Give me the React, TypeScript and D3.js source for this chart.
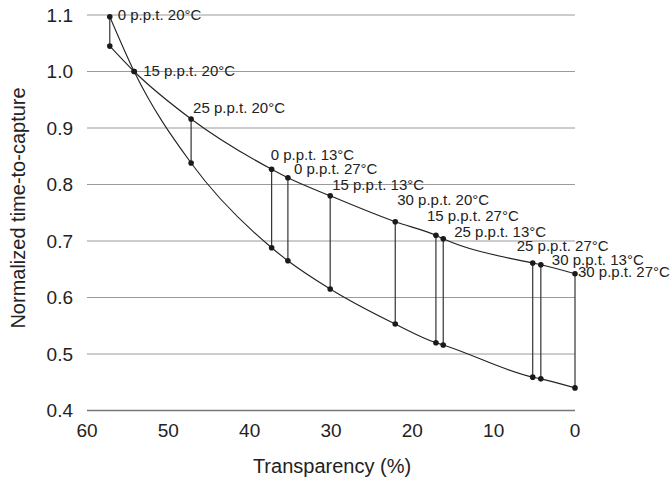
import React, { useEffect, useRef } from 'react';
import * as d3 from 'd3';

// condition labels, one per measured point
const labels = [
  '0 p.p.t. 20°C', '15 p.p.t. 20°C', '25 p.p.t. 20°C', '0 p.p.t. 13°C',
  '0 p.p.t. 27°C', '15 p.p.t. 13°C', '30 p.p.t. 20°C', '15 p.p.t. 27°C',
  '25 p.p.t. 13°C', '25 p.p.t. 27°C', '30 p.p.t. 13°C', '30 p.p.t. 27°C',
];
const transparency = [57.2, 54.2, 47.2, 37.3, 35.3, 30.1, 22.1, 17.1, 16.2, 5.2, 4.2, 0];
const seriesA = [1.045, 1.0, 0.916, 0.827, 0.812, 0.78, 0.734, 0.71, 0.704, 0.661, 0.658, 0.642];
const seriesB = [1.097, 1.0, 0.838, 0.688, 0.665, 0.615, 0.553, 0.52, 0.516, 0.459, 0.456, 0.44];
const xTicks = [60, 50, 40, 30, 20, 10, 0];
const yTicks = [0.4, 0.5, 0.6, 0.7, 0.8, 0.9, 1.0, 1.1];

// label nudges (px) from the upper dot of each pair
const labelOffsets = [
  [8, 3], [9, 4], [2, -6], [-1, -9], [6, -4], [2, -6],
  [2, -17], [-9, -14], [11, -2], [-16, -12], [11, 0], [3, 3],
];

const FONT = '"Liberation Sans", Arial, Helvetica, sans-serif';

const App = () => {
  const ref = useRef<SVGSVGElement>(null);

  useEffect(() => {
    const svg = d3.select(ref.current);
    svg.selectAll('*').remove();

    const x = d3.scaleLinear().domain([60, 0]).range([87, 575]);
    const y = d3.scaleLinear().domain([0.4, 1.1]).range([410.5, 15]);

    // gridlines
    svg.append('g')
      .selectAll('line')
      .data(yTicks)
      .enter()
      .append('line')
      .attr('x1', x(60))
      .attr('x2', x(0))
      .attr('y1', d => y(d))
      .attr('y2', d => y(d))
      .attr('stroke', d => (d === 0.4 ? '#777' : '#9a9a9a'))
      .attr('stroke-width', d => (d === 0.4 ? 1.5 : 1));

    // y tick labels
    svg.append('g')
      .selectAll('text')
      .data(yTicks)
      .enter()
      .append('text')
      .text(d => d.toFixed(1))
      .attr('x', 73)
      .attr('y', d => y(d))
      .attr('dy', '0.35em')
      .attr('text-anchor', 'end')
      .style('font-size', '19px')
      .style('font-family', FONT)
      .style('fill', '#222');

    // x tick labels
    svg.append('g')
      .selectAll('text')
      .data(xTicks)
      .enter()
      .append('text')
      .text(d => d)
      .attr('x', d => x(d))
      .attr('y', 437)
      .attr('text-anchor', 'middle')
      .style('font-size', '19px')
      .style('font-family', FONT)
      .style('fill', '#222');

    const pts = transparency.map((t, i) => ({ t, a: seriesA[i], b: seriesB[i], label: labels[i], off: labelOffsets[i] }));

    // connectors between the two curves
    svg.append('g')
      .selectAll('line')
      .data(pts)
      .enter()
      .append('line')
      .attr('x1', d => x(d.t))
      .attr('x2', d => x(d.t))
      .attr('y1', d => y(d.a))
      .attr('y2', d => y(d.b))
      .attr('stroke', '#333')
      .attr('stroke-width', 1.2);

    const line = (key: 'a' | 'b') => d3.line<any>()
      .x(d => x(d.t))
      .y(d => y(d[key]))
      .curve(d3.curveMonotoneX);

    svg.append('path').attr('d', line('a')(pts)).attr('fill', 'none').attr('stroke', '#222').attr('stroke-width', 1.1);
    svg.append('path').attr('d', line('b')(pts)).attr('fill', 'none').attr('stroke', '#222').attr('stroke-width', 1.1);

    // dots
    ['a', 'b'].forEach(key => {
      svg.append('g')
        .selectAll('circle')
        .data(pts)
        .enter()
        .append('circle')
        .attr('cx', d => x(d.t))
        .attr('cy', d => y(d[key]))
        .attr('r', 2.8)
        .style('fill', '#1a1a1a');
    });

    // condition labels
    svg.append('g')
      .selectAll('text')
      .data(pts)
      .enter()
      .append('text')
      .text(d => d.label)
      .attr('x', d => x(d.t) + d.off[0])
      .attr('y', d => y(Math.max(d.a, d.b)) + d.off[1])
      .style('font-size', '15px')
      .style('font-family', FONT)
      .style('fill', '#222');

    svg.append('text')
      .text('Transparency (%)')
      .attr('x', 332)
      .attr('y', 473)
      .attr('text-anchor', 'middle')
      .style('font-size', '20px')
      .style('font-family', FONT)
      .style('fill', '#222');

    svg.append('text')
      .text('Normalized time-to-capture')
      .attr('transform', 'translate(25,208) rotate(-90)')
      .attr('text-anchor', 'middle')
      .style('font-size', '20px')
      .style('font-family', FONT)
      .style('fill', '#222');
  }, []);

  return (
    <svg ref={ref} width={672} height={480} style={{ position: 'absolute', left: 0, top: 0, background: '#fff' }} />
  );
};

export default App;
